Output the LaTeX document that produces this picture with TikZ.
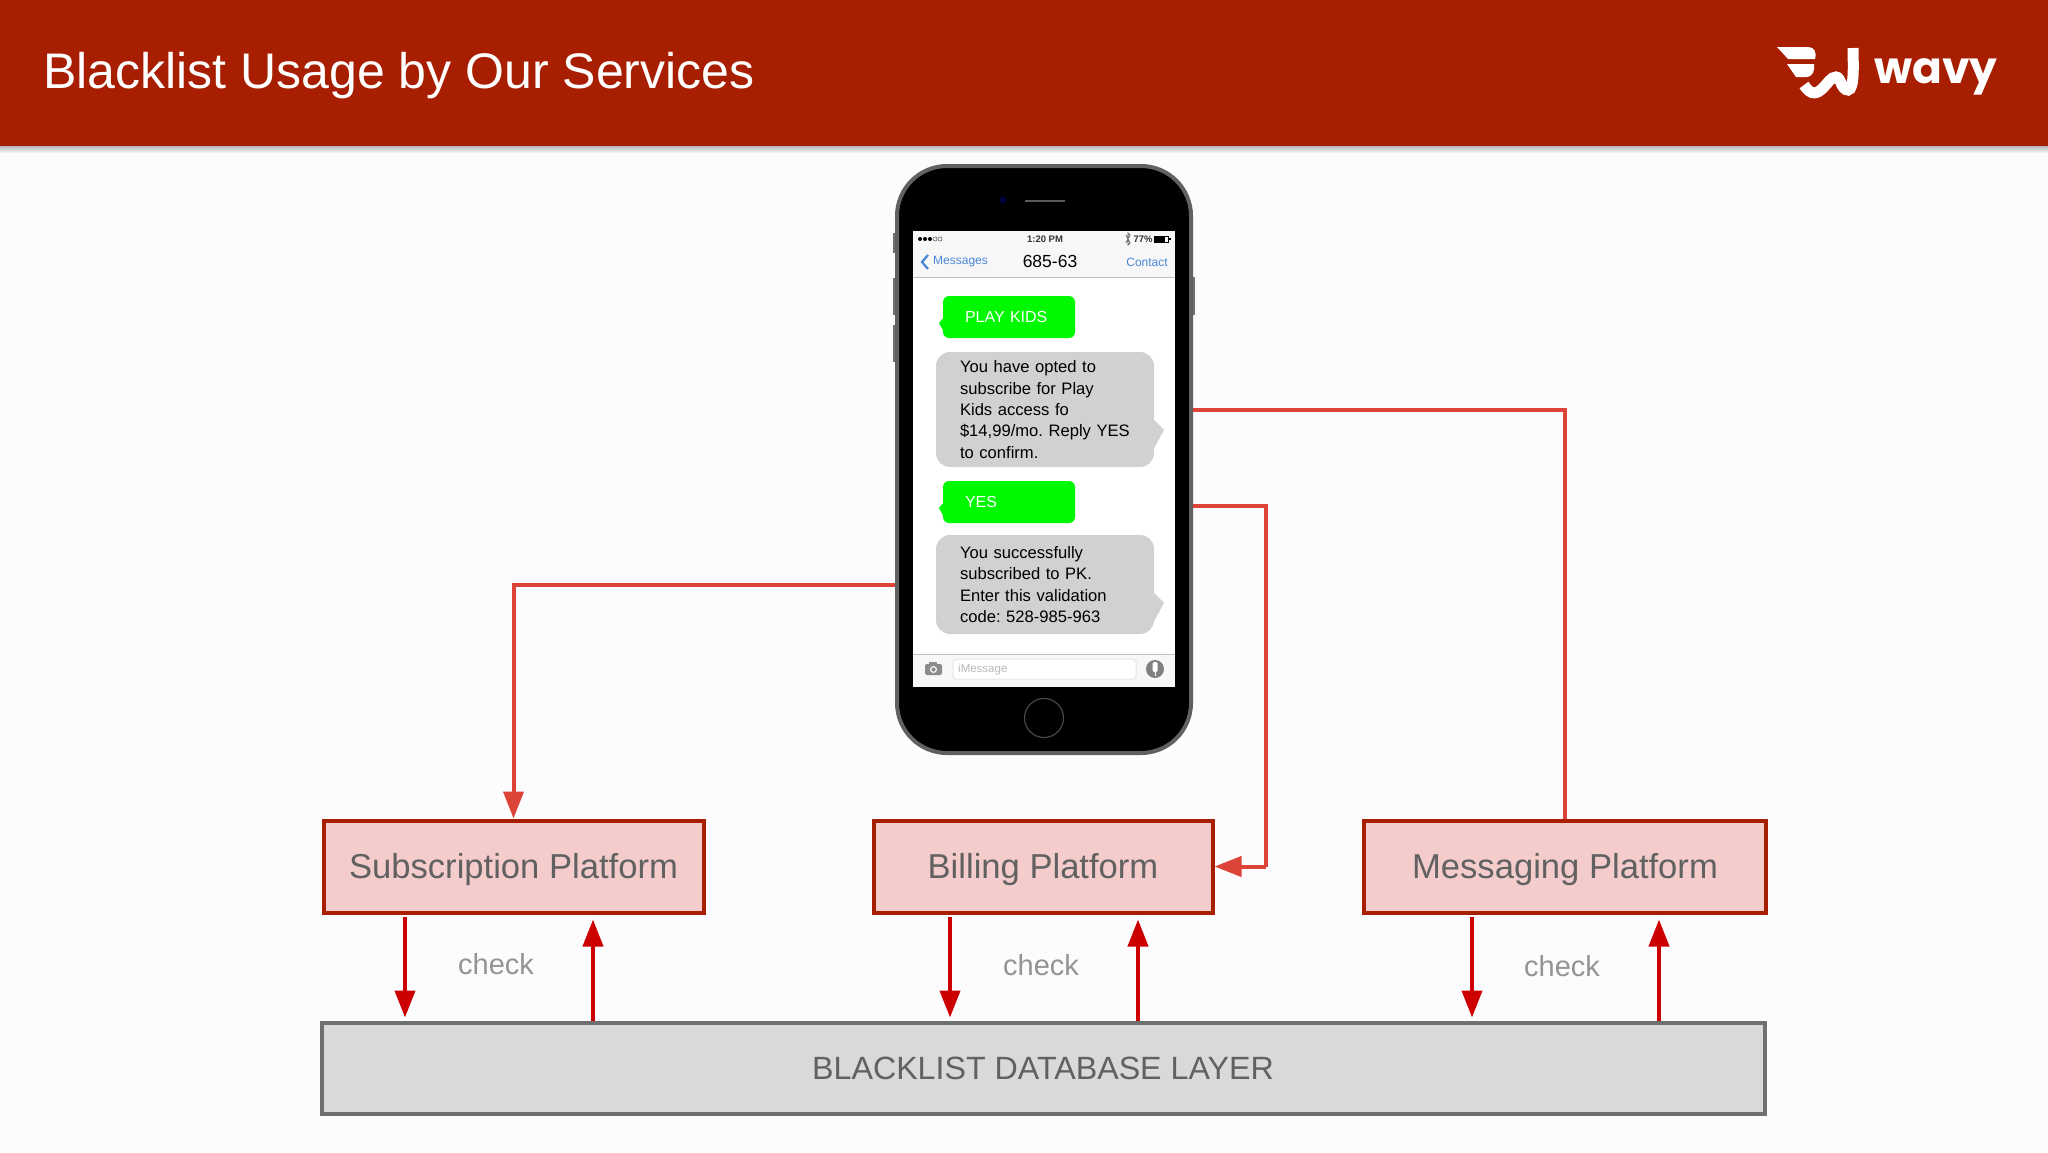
\documentclass[tikz,border=0pt]{standalone}
\usepackage{xcolor}
\usepackage{fontspec}
\usepackage{tikz}
\usetikzlibrary{arrows.meta,shadings}
\setmainfont{Liberation Sans}
\newfontfamily\logofont{Poppins}
\newcommand{\fs}[1]{\fontsize{#1}{#1}\selectfont}
\definecolor{headred}{HTML}{A81E00}
\definecolor{pagebg}{HTML}{FCFBFD}
\definecolor{boxpink}{HTML}{F5CCCC}
\definecolor{dbgray}{HTML}{D9D8DA}
\definecolor{dbedge}{HTML}{6F6F71}
\definecolor{linkred}{HTML}{DB4437}
\definecolor{checkred}{HTML}{CC0000}
\definecolor{bubgray}{HTML}{D1D1D3}
\definecolor{smsgreen}{HTML}{00F900}
\definecolor{navblue}{HTML}{4A86D8}
\tikzset{
  platform/.style={draw=headred, fill=boxpink, line width=4pt, minimum height=92pt, text=black!62, font=\fs{34.6}, text height=23pt, text depth=0pt},
  linkline/.style={draw=linkred, line width=4pt},
  linkarrow/.style={linkline, -{Triangle[width=20pt,length=27pt]}},
  checkline/.style={draw=checkred, line width=4pt, -{Triangle[width=20pt,length=27pt]}},
  checklabel/.style={text=black!42, font=\fs{29}},
  greenbub/.style={fill=smsgreen, rounded corners=6pt, minimum width=132pt, minimum height=42pt, text=white, font=\fs{16}, text width=88pt, align=left, inner xsep=0pt},
  graybub/.style={fill=bubgray, rounded corners=14pt, minimum width=218pt, text=black, font=\fontsize{16.6}{21.3}\selectfont, text width=170pt, align=left, inner sep=0pt},
  navtext/.style={text=navblue, font=\fs{12}},
}
\begin{document}
\frenchspacing
\begin{tikzpicture}[x=1pt, y=-1pt]
  \useasboundingbox (0,0) rectangle (2048,1152);
  \fill [pagebg] (0,0) rectangle (2048,1152);
  \shade [top color=black!28, bottom color=pagebg] (0,146) rectangle (2048,153);
  \fill [headred] (0,0) rectangle (2048,146);
  \node [anchor=west, text=white, font=\fs{50}, inner sep=0pt] (title) at (43,76) {Blacklist Usage by Our Services};

  % logo
  \node [anchor=base west, text=white, font=\logofont\bfseries\fs{44}, inner sep=0pt] (wavy) at (1874,83) {wavy};
  \fill [white] (1777,47) -- (1808,47) .. controls (1814,47) and (1817,52) .. (1815,59) -- (1788,59) -- cycle;
  \fill [white] (1787,64) -- (1814,64) .. controls (1815,70) and (1813,77) .. (1806,77) -- (1796,77) -- cycle;
  \draw [white, line width=11pt] (1804,85) .. controls (1811,96) and (1817,94) .. (1823,88) .. controls (1828,83) and (1831,77) .. (1836,77) .. controls (1841,77) and (1841,90) .. (1848,90) .. controls (1855,90) and (1853,60) .. (1853,48);

  % phone
  \foreach \y/\h in {233/20,278/37,325/37} {
    \fill [dbedge] (893,\y) rectangle (896,\y+\h);
  }
  \fill [dbedge] (1192,277) rectangle (1195,315);
  \node [draw=black!62, fill=black, line width=4pt, rounded corners=50pt, minimum width=294pt, minimum height=587pt] (phone) at (1044,459.5) {};
  \fill [black!60!blue!60!black] (1003,200) circle (3.5pt);
  \draw [black!65, line width=1.5pt] (1025,201)--(1065,201);
  \draw [black!72, line width=1.2pt] (1044,718) circle (19.5pt);
  \fill [white] (913,231) rectangle (1175,687);
  \fill [black!3] (913,231) rectangle (1175,277);
  \fill [black!3] (913,654) rectangle (1175,687);
  \draw [black!25, line width=1pt] (913,277)--(1175,277);
  \draw [black!25, line width=1pt] (913,654)--(1175,654);

  % status bar
  \foreach \x in {920,925,930} {
    \fill [black] (\x,239) circle (2pt);
  }
  \foreach \x in {935,940} {
    \draw [black!70, line width=0.5pt] (\x,239) circle (2pt);
  }
  \node [font=\bfseries\fs{9.5}, text=black!80, inner sep=0pt] (clock) at (1045,239) {1:20 PM};
  \node [font=\bfseries\fs{9.5}, text=black!80, inner sep=0pt] (charge) at (1143,239) {77\%};
  \draw [black!60, line width=0.8pt] (1126,235)--(1130,243)--(1128,245)--(1128,233)--(1130,235)--(1126,243);
  \draw [black, line width=0.6pt] (1154,236) rectangle (1168,242);
  \fill [black] (1154,236) rectangle (1165,242);
  \fill [black] (1169,238) rectangle (1170.5,240);

  % nav bar
  \draw [navblue, line width=2.2pt] (928,255)--(922,262)--(928,269);
  \node [navtext, anchor=west, inner sep=0pt] (back) at (933,262) {Messages};
  \node [font=\fs{17.5}, text=black, inner sep=0pt] (number) at (1050,261) {685-63};
  \node [navtext, inner sep=0pt] (contact) at (1147,262) {Contact};

  % bubbles
  \foreach \n/\y/\t in {kids/317/PLAY KIDS,yes/502/YES} {
    \fill [smsgreen] (944,\y) -- (939,\y+6) -- (946,\y+19) -- cycle;
    \node [greenbub] (\n) at (1009,\y) {\t};
  }
  \node [graybub, minimum height=115pt] (optin) at (1045,409.5) {You have opted to\\subscribe for Play\\Kids access fo\\\$14,99/mo. Reply YES\\to confirm.};
  \fill [bubgray] (1152,418) -- (1164,430) -- (1152,452) -- cycle;
  \node [graybub, minimum height=99pt] (done) at (1045,584.5) {You successfully\\subscribed to PK.\\Enter this validation\\code: 528-985-963};
  \fill [bubgray] (1152,591) -- (1164,603) -- (1152,625) -- cycle;

  % toolbar
  \fill [black!45, rounded corners=2pt] (925,664) rectangle (942,675);
  \fill [black!45] (929,662) rectangle (937,665);
  \fill [white] (933.5,669.5) circle (3.5pt);
  \fill [black!45] (933.5,669.5) circle (2.2pt);
  \draw [black!10, fill=white, line width=1pt, rounded corners=3pt] (953,659) rectangle (1136,679);
  \node [anchor=west, text=black!28, font=\fs{11.5}, inner sep=0pt] (imsg) at (958,670) {iMessage};
  \fill [black!50] (1155,669) circle (9pt);
  \fill [white, rounded corners=1.5pt] (1152.5,662) rectangle (1157.5,672);
  \draw [white, line width=1pt] (1155,672)--(1155,676);

  % platforms
  \node [platform, minimum width=380pt] (sub) at (513.5,866.5) {Subscription Platform};
  \node [platform, minimum width=339pt] (bill) at (1043,866.5) {Billing Platform};
  \node [platform, minimum width=402pt] (msg) at (1565,866.5) {Messaging Platform};
  \node [draw=dbedge, fill=dbgray, line width=4pt, minimum width=1443pt, minimum height=91pt, text=black!62, font=\fs{32.2}, text height=23.5pt, text depth=0pt] (db) at (1043,1068) {BLACKLIST DATABASE LAYER};

  % links from the phone
  \coordinate (subout) at (895,585);
  \coordinate (billout) at (1193,506);
  \coordinate (billturn) at (1266,866.5);
  \coordinate (msgout) at (1193,410);
  \draw [linkarrow] (subout) -| (sub.north);
  \draw [linkline] (billout) -| (billturn);
  \draw [linkarrow] (billturn) -- (bill.east);
  \draw [linkline] (msgout) -| (msg.north);

  % checks
  \foreach \n/\d/\u/\lx/\ly in {sub/-108.5/79.5/496/964,bill/-93/95/1041/965,msg/-93/94/1562/966} {
    \draw [checkline, shorten <=2pt, shorten >=3pt] ([xshift=\d pt]\n.south) -- ([xshift=\d pt]\n.south |- db.north);
    \draw [checkline, shorten >=5pt] ([xshift=\u pt]\n.south |- db.north) -- ([xshift=\u pt]\n.south);
    \node [checklabel] (\n check) at (\lx,\ly) {check};
  }
\end{tikzpicture}
\end{document}
